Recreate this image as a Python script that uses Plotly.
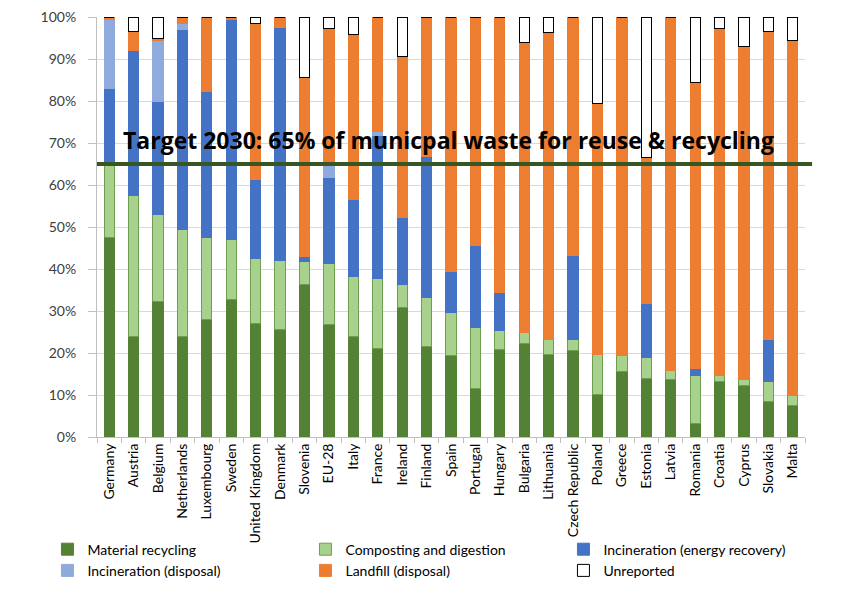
import plotly.graph_objects as go

countries = ["Germany", "Austria", "Belgium", "Netherlands", "Luxembourg", "Sweden",
             "United Kingdom", "Denmark", "Slovenia", "EU-28", "Italy", "France", "Ireland",
             "Finland", "Spain", "Portugal", "Hungary", "Bulgaria", "Lithuania",
             "Czech Republic", "Poland", "Greece", "Estonia", "Latvia", "Romania",
             "Croatia", "Cyprus", "Slovakia", "Malta"]

material_recycling = [47.5, 24.0, 32.2, 24.0, 28.0, 32.8, 27.0, 25.6, 36.2, 26.8, 23.9, 21.0, 30.9,
                      21.5, 19.5, 11.6, 20.9, 22.3, 19.7, 20.7, 10.2, 15.5, 14.0, 13.7, 3.3,
                      13.2, 12.2, 8.4, 7.6]
composting = [17.5, 33.6, 20.8, 25.4, 19.4, 14.3, 15.5, 16.5, 5.5, 14.4, 14.4, 16.8, 5.5,
              11.7, 10.2, 14.4, 4.4, 2.6, 3.6, 2.4, 9.5, 3.8, 5.0, 2.1, 11.3,
              1.4, 1.4, 4.9, 2.2]
incineration_energy = [18.0, 34.5, 27.0, 47.7, 34.9, 52.2, 18.7, 55.4, 1.2, 20.5, 18.3, 34.0, 15.9,
                       33.7, 9.7, 19.5, 9.1, 0.0, 0.0, 20.2, 0.0, 0.0, 12.7, 0.0, 1.8,
                       0.0, 0.0, 9.8, 0.0]
incineration_disposal = [16.5, 0.0, 14.5, 1.3, 0.0, 0.0, 0.0, 0.0, 0.0, 2.9, 0.0, 1.0, 0.0,
                         0.0, 0.0, 0.0, 0.0, 0.0, 0.0, 0.0, 0.0, 0.0, 0.0, 0.0, 0.0,
                         0.0, 0.0, 0.0, 0.0]
landfill = [0.5, 4.4, 0.5, 1.6, 17.7, 0.7, 37.3, 2.5, 42.7, 32.7, 39.3, 27.2, 38.3,
            33.1, 60.6, 54.5, 65.6, 69.1, 73.1, 56.7, 59.6, 80.7, 34.9, 84.2, 68.0,
            82.7, 79.4, 73.4, 84.6]
unreported = [0.0, 3.5, 5.0, 0.0, 0.0, 0.0, 1.5, 0.0, 14.4, 2.7, 4.1, 0.0, 9.4,
              0.0, 0.0, 0.0, 0.0, 6.0, 3.6, 0.0, 20.7, 0.0, 33.4, 0.0, 15.6,
              2.7, 7.0, 3.5, 5.6]

target = 65
target_text = "Target 2030: 65% of municpal waste for reuse & recycling"

series = [
    ("Material recycling", material_recycling, "#548235", "#548235"),
    ("Composting and digestion", composting, "#A9D18E", "#6E9F4E"),
    ("Incineration (energy recovery)", incineration_energy, "#4472C4", "#4472C4"),
    ("Incineration (disposal)", incineration_disposal, "#8FAADC", "#8FAADC"),
    ("Landfill (disposal)", landfill, "#ED7D31", "#ED7D31"),
    ("Unreported", unreported, "#FFFFFF", "#000000"),
]

fig = go.Figure()
for name, vals, fill, line in series:
    fig.add_trace(go.Bar(
        name=name, x=countries, y=vals,
        marker=dict(color=fill, line=dict(color=line, width=1)),
        width=0.42,
    ))

fig.add_shape(type="line", xref="paper", yref="y", x0=0, x1=1.01, y0=target, y1=target,
              line=dict(color="#375623", width=4))
fig.add_annotation(xref="paper", yref="y", x=0.496, y=target, yanchor="bottom", yshift=6,
                   text="<b>" + target_text + "</b>", showarrow=False,
                   font=dict(family="Open Sans, sans-serif", size=23, color="#000000"))

fig.update_layout(
    barmode="stack",
    width=865, height=597,
    margin=dict(l=89, r=68, t=9, b=168, autoexpand=False),
    plot_bgcolor="white", paper_bgcolor="white",
    font=dict(family="Lato, Open Sans, sans-serif", size=14, color="#404040"),
    bargap=0.5,
    legend=dict(orientation="h", x=-0.07, xanchor="left", y=-0.23, yanchor="top",
                entrywidth=213, entrywidthmode="pixels", traceorder="normal",
                font=dict(size=14, color="#000000"), itemclick=False,
                tracegroupgap=0, bgcolor="rgba(255,255,255,0)"),
)
fig.update_yaxes(range=[0, 100], dtick=10, ticksuffix="%", showgrid=True,
                 gridcolor="#D9D9D9", gridwidth=1, showline=True, linecolor="#BFBFBF",
                 zeroline=False, ticks="outside", ticklen=8, tickcolor="#BFBFBF",
                 ticklabelstandoff=9, ticklabeloverflow="allow", automargin=False,
                 tickfont=dict(size=14, color="#404040"))
fig.update_xaxes(showline=True, linecolor="#BFBFBF", ticks="outside", tickson="boundaries",
                 ticklen=5, tickcolor="#BFBFBF", tickangle=-90, automargin=False,
                 tickfont=dict(size=14, color="#000000"))

fig.write_html("out.html")
